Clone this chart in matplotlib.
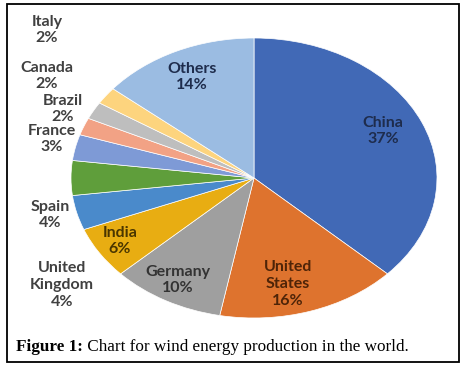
import matplotlib.pyplot as plt
from matplotlib.patches import Rectangle

# wind energy share by country, clockwise from the top
countries = ["China", "United\nStates", "Germany", "India", "Spain", "United\nKingdom",
             "France", "Brazil", "Canada", "Italy", "Others"]
shares = [37, 16, 10, 6, 4, 4, 3, 2, 2, 2, 14]
colors = ["#4169B6", "#DE732E", "#9F9F9F", "#E8AD12", "#4A8ACB", "#5F9E3B",
          "#7E9AD6", "#F2A285", "#BEBEBE", "#FDD47E", "#9BBCE2"]
text_colors = ["#1E2C4C", "#4E2408", "#333333", "#4A3600", "#404040", "#404040",
               "#404040", "#404040", "#404040", "#404040", "#1E2C4C"]

# label centres in pixels of the 468x370 picture
label_px = [(383, 131), (288, 284), (178, 280), (120, 241), (50, 215), (62, 285),
            (52, 139), (63, 109), (47, 76), (47, 30), (192, 77)]

W, H = 468, 370
cx, cy, rx, ry = 254, 178, 183, 140

fig = plt.figure(figsize=(W / 100, H / 100), dpi=100)
ax = fig.add_axes([(cx - rx) / W, 1 - (cy + ry) / H, 2 * rx / W, 2 * ry / H])

ax.pie(shares, colors=colors, startangle=90, counterclock=False,
       wedgeprops=dict(edgecolor="white", linewidth=0.5))
ax.set_aspect("auto")
ax.set_xlim(-1, 1)
ax.set_ylim(-1, 1)
ax.axis("off")

for name, val, (px, py), tc in zip(countries, shares, label_px, text_colors):
    ax.text((px - cx) / rx, (cy - py) / ry, f"{name}\n{val}%",
            ha="center", va="center", fontsize=11.5, family="Lato", weight="bold",
            color=tc, linespacing=1.25, clip_on=False)

# frame around the figure
fig.patches.append(Rectangle((6.5 / W, 1 - 361.5 / H), 452.5 / W, 357.5 / H,
                             transform=fig.transFigure, fill=False,
                             edgecolor="black", linewidth=1.3))

t1 = fig.text(16 / W, 1 - 351 / H, "Figure 1:", fontsize=12.3, weight="bold",
              family="Liberation Serif", ha="left", va="baseline")
ax.annotate(" Chart for wind energy production in the world.", xy=(1, 0),
            xycoords=t1, va="bottom", ha="left", fontsize=12.3,
            family="Liberation Serif", annotation_clip=False)

fig.savefig("out.png", dpi=100)
